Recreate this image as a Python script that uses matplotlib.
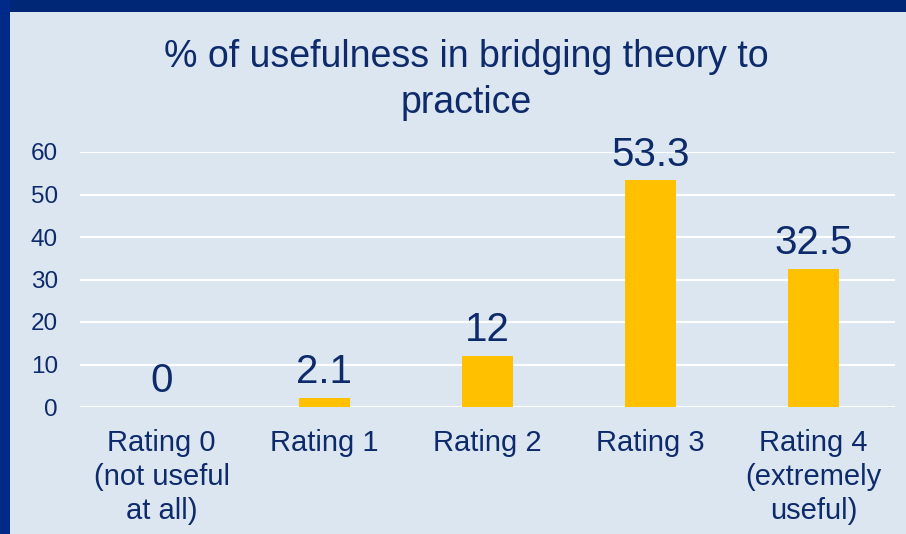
import matplotlib.pyplot as plt
from matplotlib.patches import Rectangle
import numpy as np

categories = ["Rating 0\n(not useful\nat all)", "Rating 1", "Rating 2", "Rating 3",
              "Rating 4\n(extremely\nuseful)"]
values = [0, 2.1, 12, 53.3, 32.5]
value_labels = ["0", "2.1", "12", "53.3", "32.5"]
y_ticks = [0, 10, 20, 30, 40, 50, 60]

BG = "#dce6f1"
NAVY = "#0d2a6b"
GOLD = "#ffc000"

plt.rcParams['font.family'] = ['Liberation Sans', 'DejaVu Sans']

fig = plt.figure(figsize=(9.06, 5.34), dpi=100)
fig.patch.set_facecolor(BG)

# dark blue frame on top and left
fig.patches.append(Rectangle((0, 1 - 12/534), 1, 12/534, transform=fig.transFigure,
                             facecolor="#002776", edgecolor="none", zorder=5))
fig.patches.append(Rectangle((0, 0), 10/906, 1, transform=fig.transFigure,
                             facecolor="#002a8a", edgecolor="none", zorder=5))

ax = fig.add_axes([80/906, 1 - 407/534, 815/906, 255/534])
ax.set_facecolor(BG)
x = np.arange(len(categories))
ax.bar(x, values, width=0.31, color=GOLD, zorder=3)
ax.set_xlim(-0.5, len(categories) - 0.5)
ax.set_ylim(0, 60)
ax.set_yticks(y_ticks)
ax.yaxis.grid(True, color="white", linewidth=1.5, zorder=0)
for s in ax.spines.values():
    s.set_visible(False)
ax.tick_params(axis='both', length=0, colors=NAVY)
ax.tick_params(axis='y', labelsize=17.5, pad=16)
ax.set_xticks(x)
ax.set_xticklabels(categories, fontsize=21, linespacing=1.27)
ax.tick_params(axis='x', pad=16)

for xi, v, t in zip(x, values, value_labels):
    ax.annotate(t, (xi, v), xytext=(0, 5), textcoords="offset points",
                ha='center', va='bottom', fontsize=29, color=NAVY)

fig.text(466/906, 1 - 80/534, "% of usefulness in bridging theory to\npractice",
         ha='center', va='center', fontsize=27, color=NAVY, linespacing=1.34)

fig.savefig("out.png", dpi=100, facecolor=BG)
